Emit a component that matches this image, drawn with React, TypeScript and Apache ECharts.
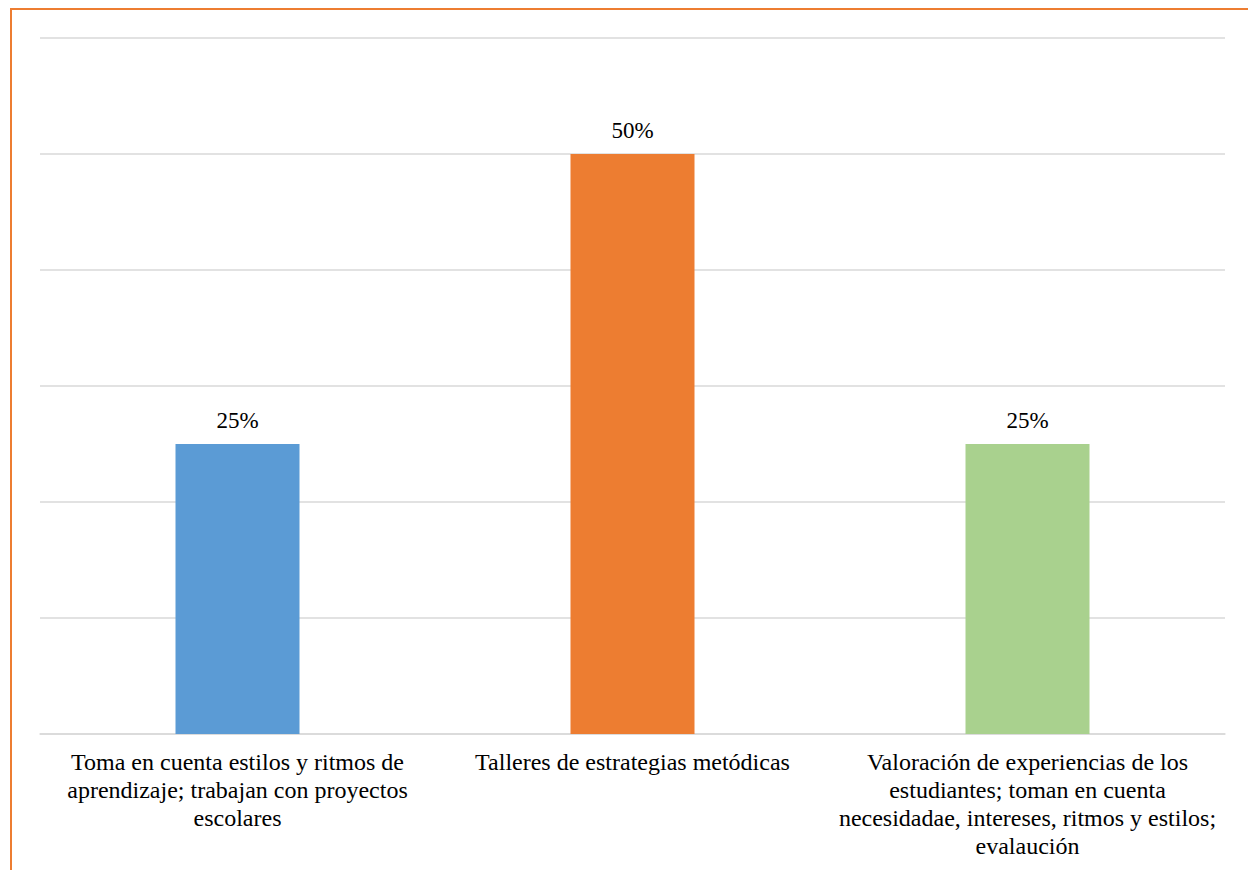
import React, { useEffect, useRef } from "react";
import * as echarts from "echarts";

const categories: string[] = [
  "Toma en cuenta estilos y ritmos de\naprendizaje; trabajan con proyectos\nescolares",
  "Talleres de estrategias metódicas",
  "Valoración de experiencias de los\nestudiantes; toman en cuenta\nnecesidadae, intereses, ritmos y estilos;\nevalaución",
];
const values: number[] = [25, 50, 25];
const barColors: string[] = ["#5B9BD5", "#ED7D31", "#A9D18E"];

const SERIF = "'Liberation Serif', 'Times New Roman', serif";

export default function App() {
  const ref = useRef<HTMLDivElement>(null);
  useEffect(() => {
    if (!ref.current) return;
    const chart = echarts.init(ref.current, undefined, { renderer: "svg" });
    chart.setOption({
      animation: false,
      backgroundColor: "#fff",
      textStyle: { fontFamily: SERIF },
      grid: { left: 40, right: 23, top: 38, bottom: 136, containLabel: false },
      xAxis: {
        type: "category",
        data: categories,
        axisLine: { show: true, lineStyle: { color: "#D9D9D9", width: 1.5 } },
        axisTick: { show: false },
        axisLabel: {
          interval: 0,
          color: "#000",
          fontFamily: SERIF,
          fontSize: 24,
          lineHeight: 28,
          margin: 14,
          align: "center",
        },
      },
      yAxis: {
        type: "value",
        min: 0,
        max: 60,
        interval: 10,
        axisLabel: { show: false },
        axisLine: { show: false },
        axisTick: { show: false },
        splitLine: { lineStyle: { color: "#D9D9D9", width: 1.5 } },
      },
      series: [
        {
          type: "bar",
          barWidth: 124,
          data: values.map((v, i) => ({ value: v, itemStyle: { color: barColors[i] } })),
          label: {
            show: true,
            position: "top",
            distance: 12,
            formatter: (p: any) => p.value + "%",
            color: "#000",
            fontFamily: SERIF,
            fontSize: 23,
          },
        },
      ],
    });
    return () => chart.dispose();
  }, []);
  return (
    <div style={{ position: "fixed", left: 0, top: 0, width: 1248, height: 870, background: "#fff", overflow: "hidden" }}>
      <div ref={ref} style={{ position: "absolute", left: 0, top: 0, width: 1248, height: 870 }} />
      <div
        style={{
          position: "absolute",
          left: 10,
          top: 8,
          width: 1300,
          height: 900,
          borderLeft: "2.5px solid #ED7D31",
          borderTop: "2.5px solid #ED7D31",
          pointerEvents: "none",
        }}
      />
    </div>
  );
}
